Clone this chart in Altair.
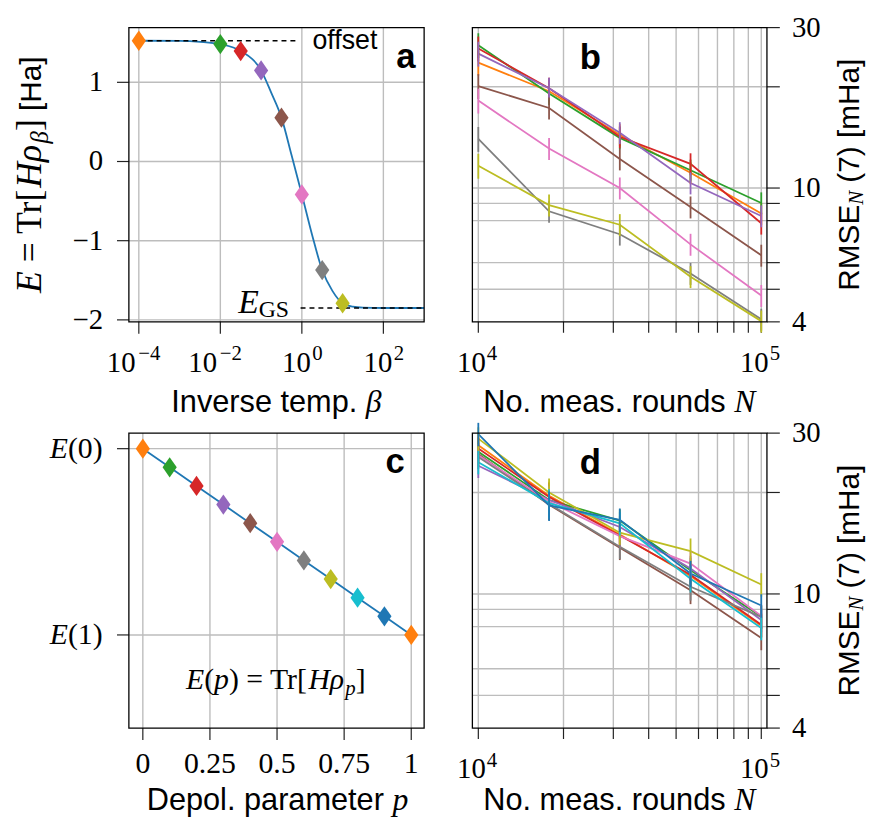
import altair as alt
import pandas as pd

# ---------------- data ----------------
# Panel a: energy of thermal state vs inverse temperature
beta_curve = [1e-4, 1e-3, 3.16e-3, 1e-2, 0.0316, 0.1, 0.178, 0.316, 0.562, 1.0,
              1.78, 3.16, 5.62, 10.0, 17.8, 31.6, 100.0, 1000.0]
E_curve = [1.525, 1.523, 1.512, 1.483, 1.395, 1.15, 0.866, 0.554, 0.075, -0.417,
           -0.925, -1.371, -1.634, -1.79, -1.834, -1.846, -1.85, -1.85]
beta_pts = [1e-4, 1e-2, 0.0316, 0.1, 0.316, 1.0, 3.16, 10.0]
E_pts = [1.525, 1.483, 1.395, 1.15, 0.554, -0.417, -1.371, -1.79]
a_pt_colors = ["orange", "green", "red", "purple", "brown", "pink", "gray", "olive"]
E_offset = 1.525
offset_beta_range = [1e-4, 0.70]
E_GS = -1.85
gs_beta_range = [0.93, 1000.0]

a_xtick_vals = [1e-4, 1e-2, 1.0, 100.0]
a_xtick_exp = ["−4", "−2", "0", "2"]
a_ytick_vals = [-2, -1, 0, 1]
a_ytick_text = ["−2", "−1", "0", "1"]

# Panel c: energy vs depolarising parameter
p_vals = [0.0, 0.1, 0.2, 0.3, 0.4, 0.5, 0.6, 0.7, 0.8, 0.9, 1.0]
E_p = [1.0, 0.9, 0.8, 0.7, 0.6, 0.5, 0.4, 0.3, 0.2, 0.1, 0.0]
c_pt_colors = ["orange", "green", "red", "purple", "brown", "pink", "gray", "olive",
               "cyan", "blue", "orange"]
c_xtick_vals = [0, 0.25, 0.5, 0.75, 1]
c_xtick_text = ["0", "0.25", "0.5", "0.75", "1"]
c_ytick_vals = [1.0, 0.0]
c_ytick_arg = ["(0)", "(1)"]

# Panels b, d: RMSE vs number of measurement rounds
N_rounds = [10000, 17783, 31623, 56234, 100000]
b_names = ["orange", "green", "red", "purple", "brown", "pink", "gray", "olive"]
b_vals = [
    [23.6, 19.4, 14.4, 11.1, 8.40],
    [26.6, 19.1, 14.1, 11.3, 9.03],
    [26.0, 19.8, 14.2, 11.8, 7.86],
    [25.1, 19.8, 14.6, 10.35, 8.26],
    [20.1, 17.3, 12.2, 8.78, 6.31],
    [18.2, 13.1, 10.0, 6.80, 4.79],
    [14.0, 8.53, 7.29, 5.57, 4.07],
    [11.65, 8.90, 7.78, 5.45, 4.02],
]
b_rel_err = [0.085, 0.075, 0.075, 0.075, 0.075]

d_names = ["orange", "green", "red", "purple", "brown", "pink", "gray", "olive", "cyan", "blue"]
d_vals = [
    [27.6, 19.55, 15.0, 11.3, 8.05],
    [26.4, 19.0, 16.5, 11.75, 8.57],
    [27.0, 19.4, 14.9, 11.4, 8.1],
    [24.0, 19.0, 15.8, 11.9, 8.37],
    [26.0, 18.4, 13.7, 10.25, 7.4],
    [25.8, 18.8, 14.85, 12.3, 8.6],
    [25.5, 18.5, 13.8, 10.5, 8.55],
    [28.9, 20.0, 15.2, 13.4, 10.67],
    [24.6, 18.6, 16.2, 11.1, 7.92],
    [29.8, 18.3, 16.6, 11.5, 9.24],
]
d_rel_err = [0.08, 0.10, 0.08, 0.09, 0.08]

bd_xgrid = [10000, 20000, 30000, 40000, 50000, 60000, 70000, 80000, 90000, 100000]
bd_xlabel_vals = [10000, 100000]
bd_xlabel_exp = ["4", "5"]
bd_yticks = [4, 5, 6, 8, 9, 10, 20, 30]
bd_ygrid = [5, 6, 8, 9, 10, 20]
bd_ylabel_vals = [4, 10, 30]
bd_ylabel_text = ["4", "10", "30"]

# ---------------- style / layout ----------------
TAB = dict(blue="#1f77b4", orange="#ff7f0e", green="#2ca02c", red="#d62728",
           purple="#9467bd", brown="#8c564b", pink="#e377c2", gray="#7f7f7f",
           olive="#bcbd22", cyan="#17becf")
GRID = "#bdbdbd"
TICK = "#222222"
SERIF = "Liberation Serif"
SANS = "Liberation Sans"
FONTS = {"serif": SERIF, "sans": SANS}
DIAMOND = "M-0.7,0L0,-1L0.7,0L0,1Z"
MSIZE = 420
TS = 29      # tick label size
XS = 21      # exponent size

# panel frames in page pixels: (left, right, top, bottom)
GEOM = {"a": (130, 428, 24, 321), "b": (476.7, 774, 24, 321),
        "c": (130, 428, 433.3, 731), "d": (476.7, 774, 433.3, 731)}


def P(v):  # page pixel -> chart pixel (page has an 8px margin)
    return round(v - 8, 2)


EM = {
    ("serif", "normal"): {" ": .25, "=": .564, "T": .611, "r": .333, "[": .333, "]": .333,
                          "(": .333, ")": .333, "G": .722, "S": .556, "−": .564},
    ("serif", "italic"): {"E": .611, "H": .722, "ρ": .52, "β": .5, "p": .5, "N": .667},
    ("sans", "normal"): {" ": .278, "R": .722, "M": .833, "S": .667, "E": .667, "(": .333,
                         ")": .333, "[": .278, "]": .278, "m": .833, "H": .722, "a": .556,
                         "I": .278, "n": .556, "v": .5, "e": .556, "s": .5, "t": .278,
                         "p": .556, ".": .278, "N": .722, "o": .556, "r": .333, "u": .556,
                         "d": .556, "D": .722, "l": .222, "f": .278, "7": .556},
}
ONE = pd.DataFrame({"k": [0]})
L = []


def seg_width(text, fam, style, size):
    table = EM[(fam, style)]
    return sum(table.get(ch, 0.5) for ch in text) * size


def rich(segs, X, Y, align="left", angle=0):
    widths = [seg_width(t, f, s, z) for t, f, s, z, _ in segs]
    total = sum(widths)
    pos = {"left": 0.0, "center": -total / 2, "right": -total}[align]
    for (t, f, s, z, dy), w in zip(segs, widths):
        lead = len(t) - len(t.lstrip(" "))
        lead_w = seg_width(" " * lead, f, s, z)
        L.append(alt.Chart(ONE).mark_text(text=t.strip(" "), align="left", baseline="alphabetic",
                                          dx=round(pos + lead_w, 1), dy=dy, angle=angle,
                                          font=FONTS[f], fontSize=z, fontStyle=s, color="black")
                 .encode(x=alt.value(P(X)), y=alt.value(P(Y))))
        pos += w


def text_at(t, X, Y, font=SANS, size=27, weight="normal", align="center"):
    L.append(alt.Chart(ONE).mark_text(text=t, font=font, fontSize=size, fontWeight=weight,
                                      align=align, baseline="alphabetic", color="black")
             .encode(x=alt.value(P(X)), y=alt.value(P(Y))))


def vrules(scale, vals, y0, y1, color, width):
    L.append(alt.Chart(pd.DataFrame({"v": vals})).mark_rule(color=color, strokeWidth=width).encode(
        x=alt.X("v:Q", scale=scale, axis=None), y=alt.value(P(y0)), y2=alt.value(P(y1))))


def hrules(scale, vals, x0, x1, color, width):
    L.append(alt.Chart(pd.DataFrame({"v": vals})).mark_rule(color=color, strokeWidth=width).encode(
        y=alt.Y("v:Q", scale=scale, axis=None), x=alt.value(P(x0)), x2=alt.value(P(x1))))


def frame(g):
    x0, x1, y0, y1 = g
    L.append(alt.Chart(ONE).mark_rect(fillOpacity=0, stroke="black", strokeWidth=1.3).encode(
        x=alt.value(P(x0)), x2=alt.value(P(x1)), y=alt.value(P(y0)), y2=alt.value(P(y1))))


def xscale(g, domain, log=False):
    if log:
        return alt.Scale(type="log", domain=domain, range=[P(g[0]), P(g[1])], nice=False)
    return alt.Scale(domain=domain, range=[P(g[0]), P(g[1])], nice=False, zero=False)


def yscale(g, domain, log=False):
    if log:
        return alt.Scale(type="log", domain=domain, range=[P(g[3]), P(g[2])], nice=False)
    return alt.Scale(domain=domain, range=[P(g[3]), P(g[2])], nice=False, zero=False)


def pow10_labels(scale, vals, exps, base_y, d10, dexp):
    df = pd.DataFrame({"v": vals, "e": exps})
    L.append(alt.Chart(df).mark_text(text="10", align="right", baseline="alphabetic", dx=d10,
                                     font=SERIF, fontSize=TS, color="black").encode(
        x=alt.X("v:Q", scale=scale, axis=None), y=alt.value(P(base_y))))
    L.append(alt.Chart(df).mark_text(align="left", baseline="alphabetic", dx=dexp,
                                     font=SERIF, fontSize=XS, color="black").encode(
        x=alt.X("v:Q", scale=scale, axis=None), y=alt.value(P(base_y - 11.7)), text="e:N"))


# ---------------- panel a ----------------
g = GEOM["a"]
a_x = xscale(g, [5.7e-5, 1000], log=True)
a_y = yscale(g, [-2.025, 1.691])
vrules(a_x, a_xtick_vals, g[2], g[3], GRID, 1.4)
hrules(a_y, a_ytick_vals, g[0], g[1], GRID, 1.4)
vrules(a_x, a_xtick_vals, g[3], g[3] + 12, TICK, 1.2)
hrules(a_y, a_ytick_vals, g[0] - 12, g[0], TICK, 1.2)
L.append(alt.Chart(pd.DataFrame({"beta": beta_curve, "E": E_curve}))
         .mark_line(color=TAB["blue"], strokeWidth=1.8, interpolate="monotone").encode(
    x=alt.X("beta:Q", scale=a_x, axis=None), y=alt.Y("E:Q", scale=a_y, axis=None)))
for rng, ev in [(offset_beta_range, E_offset), (gs_beta_range, E_GS)]:
    L.append(alt.Chart(pd.DataFrame({"b1": [rng[0]], "b2": [rng[1]], "E": [ev]}))
             .mark_rule(color="black", strokeDash=[5, 4], strokeWidth=1.5).encode(
        x=alt.X("b1:Q", scale=a_x, axis=None), x2="b2:Q", y=alt.Y("E:Q", scale=a_y, axis=None)))
L.append(alt.Chart(pd.DataFrame({"beta": beta_pts, "E": E_pts, "col": [TAB[c] for c in a_pt_colors]}))
         .mark_point(shape=DIAMOND, filled=True, size=MSIZE, opacity=1).encode(
    x=alt.X("beta:Q", scale=a_x, axis=None), y=alt.Y("E:Q", scale=a_y, axis=None),
    color=alt.Color("col:N", scale=None)))
frame(g)
neg = [i for i, e in enumerate(a_xtick_exp) if e.startswith("−")]
pos_ = [i for i, e in enumerate(a_xtick_exp) if not e.startswith("−")]
pow10_labels(a_x, [a_xtick_vals[i] for i in neg], [a_xtick_exp[i] for i in neg], 371.7, -3.3, -0.5)
pow10_labels(a_x, [a_xtick_vals[i] for i in pos_], [a_xtick_exp[i] for i in pos_], 371.7, 9.0, 10.5)
L.append(alt.Chart(pd.DataFrame({"v": a_ytick_vals, "t": a_ytick_text})).mark_text(
    align="right", baseline="alphabetic", dy=9, font=SERIF, fontSize=TS, color="black").encode(
    x=alt.value(P(104)), y=alt.Y("v:Q", scale=a_y, axis=None), text="t:N"))
rich([("E", "serif", "italic", 36, 0), (" = Tr[", "serif", "normal", 36, 0),
      ("Hρ", "serif", "italic", 36, 0), ("β", "serif", "italic", 25, 7),
      ("]", "serif", "normal", 36, 0), (" [Ha]", "sans", "normal", 30, 0)],
     41.7, 172.5, align="center", angle=270)
rich([("Inverse temp. ", "sans", "normal", 31, 0), ("β", "serif", "italic", 32, 0)],
     279, 412, align="center")
text_at("offset", 348, 46, size=27)
rich([("E", "serif", "italic", 34, 0), ("GS", "serif", "normal", 24, 4)],
     291.7, 311.7, align="right")
text_at("a", 409.5, 65, size=35, weight="bold")


# ---------------- panels b and d ----------------
def rmse_panel(key, names, vals, rel_err, letter_pos, title_y):
    g = GEOM[key]
    sx = xscale(g, [9528, 104713], log=True)
    sy = yscale(g, [4, 30], log=True)
    vrules(sx, bd_xgrid, g[2], g[3], GRID, 1.4)
    hrules(sy, bd_ygrid, g[0], g[1], GRID, 1.4)
    vrules(sx, bd_xgrid, g[3], g[3] + 11, TICK, 1.2)
    hrules(sy, bd_yticks, g[1], g[1] + 13, TICK, 1.2)
    rows = []
    for i, (nm, vs) in enumerate(zip(names, vals)):
        for n, v, e in zip(N_rounds, vs, rel_err):
            rows.append({"s": i, "col": TAB[nm], "N": n, "v": v, "lo": v * (1 - e), "hi": v * (1 + e)})
    df = pd.DataFrame(rows)
    L.append(alt.Chart(df).mark_line(strokeWidth=1.8).encode(
        x=alt.X("N:Q", scale=sx, axis=None), y=alt.Y("v:Q", scale=sy, axis=None),
        color=alt.Color("col:N", scale=None), detail="s:N"))
    L.append(alt.Chart(df).mark_rule(strokeWidth=1.8).encode(
        x=alt.X("N:Q", scale=sx, axis=None), y=alt.Y("lo:Q", scale=sy, axis=None), y2="hi:Q",
        color=alt.Color("col:N", scale=None)))
    frame(g)
    pow10_labels(sx, bd_xlabel_vals, bd_xlabel_exp, g[3] + 50.7, 7.5, 8.5)
    L.append(alt.Chart(pd.DataFrame({"v": bd_ylabel_vals, "t": bd_ylabel_text})).mark_text(
        align="left", baseline="alphabetic", dy=9, font=SERIF, fontSize=TS, color="black").encode(
        x=alt.value(P(799.3)), y=alt.Y("v:Q", scale=sy, axis=None), text="t:N"))
    rich([("RMSE", "sans", "normal", 30, 0), ("N", "serif", "italic", 21, 4),
          (" (7) [mHa]", "sans", "normal", 30, 0)],
         866.5, (g[2] + g[3]) / 2, align="center", angle=270)
    rich([("No. meas. rounds ", "sans", "normal", 31, 0), ("N", "serif", "italic", 32, 0)],
         625, title_y, align="center")
    text_at(key, letter_pos[0], letter_pos[1], size=35, weight="bold")


rmse_panel("b", b_names, b_vals, b_rel_err, (595.8, 66), 411.5)
rmse_panel("d", d_names, d_vals, d_rel_err, (595.8, 475), 813.5)

# ---------------- panel c ----------------
g = GEOM["c"]
c_x = xscale(g, [-0.052, 1.048])
c_y = yscale(g, [-0.5, 1.0835])
vrules(c_x, c_xtick_vals, g[2], g[3], GRID, 1.4)
hrules(c_y, c_ytick_vals, g[0], g[1], GRID, 1.4)
vrules(c_x, c_xtick_vals, g[3], g[3] + 12, TICK, 1.2)
hrules(c_y, c_ytick_vals, g[0] - 12, g[0], TICK, 1.2)
df_c = pd.DataFrame({"p": p_vals, "E": E_p, "col": [TAB[c] for c in c_pt_colors]})
L.append(alt.Chart(df_c).mark_line(color=TAB["blue"], strokeWidth=1.8).encode(
    x=alt.X("p:Q", scale=c_x, axis=None), y=alt.Y("E:Q", scale=c_y, axis=None)))
L.append(alt.Chart(df_c).mark_point(shape=DIAMOND, filled=True, size=MSIZE, opacity=1).encode(
    x=alt.X("p:Q", scale=c_x, axis=None), y=alt.Y("E:Q", scale=c_y, axis=None),
    color=alt.Color("col:N", scale=None)))
frame(g)
L.append(alt.Chart(pd.DataFrame({"v": c_xtick_vals, "t": c_xtick_text})).mark_text(
    align="center", baseline="alphabetic", font=SERIF, fontSize=TS + 1, color="black").encode(
    x=alt.X("v:Q", scale=c_x, axis=None), y=alt.value(P(776.7)), text="t:N"))
df_cy = pd.DataFrame({"v": c_ytick_vals, "t": c_ytick_arg})
arg_w = seg_width("(0)", "serif", "normal", 30)
L.append(alt.Chart(df_cy).mark_text(align="right", baseline="alphabetic", dy=9.3, font=SERIF,
                                    fontSize=30, color="black").encode(
    x=alt.value(P(103.5)), y=alt.Y("v:Q", scale=c_y, axis=None), text="t:N"))
L.append(alt.Chart(df_cy).mark_text(text="E", align="right", baseline="alphabetic", dy=9.3,
                                    dx=-round(arg_w, 1), font=SERIF, fontStyle="italic",
                                    fontSize=30, color="black").encode(
    x=alt.value(P(103.5)), y=alt.Y("v:Q", scale=c_y, axis=None)))
rich([("E", "serif", "italic", 30, 0), ("(", "serif", "normal", 30, 0),
      ("p", "serif", "italic", 30, 0), (") = Tr[", "serif", "normal", 30, 0),
      ("Hρ", "serif", "italic", 30, 0), ("p", "serif", "italic", 21, 6),
      ("]", "serif", "normal", 30, 0)],
     278.3, 691.7, align="center")
rich([("Depol. parameter ", "sans", "normal", 31, 0), ("p", "serif", "italic", 32, 0)],
     280, 813.5, align="center")
text_at("c", 398.7, 473.3, size=35, weight="bold")

chart = alt.layer(*L).resolve_scale(x="independent", y="independent").properties(
    width=868, height=812, padding=0, autosize=alt.AutoSizeParams(type="none")
).configure_view(stroke="transparent")

chart.save("out.html", embed_options={"renderer": "svg", "actions": False})
